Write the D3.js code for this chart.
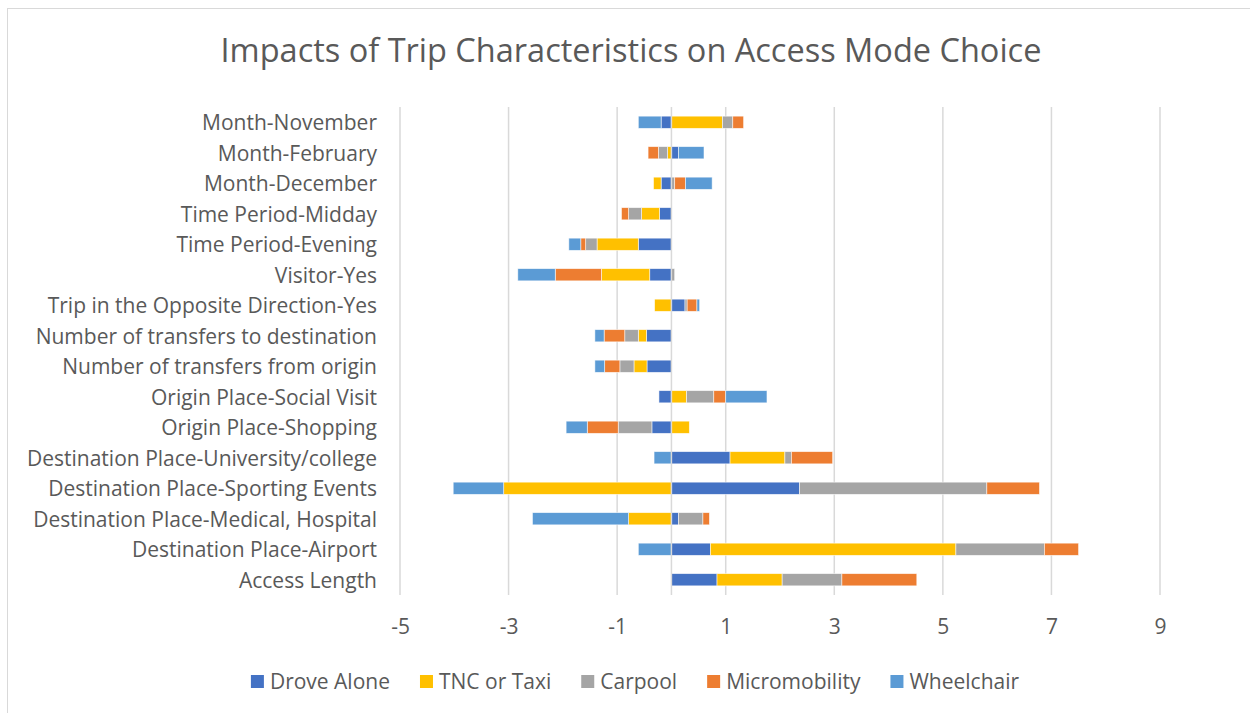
<!DOCTYPE html>
<html>
<head>
<meta charset="utf-8">
<script src="https://cdn.jsdelivr.net/npm/d3@7"></script>
<style>
  body { margin: 0; background: #fff; }
  text { font-family: "Open Sans", sans-serif; fill: #595959; }
</style>
</head>
<body>
<div id="chart-area"></div>
<script>
// categories, top to bottom as in the chart
var categories = [
  "Month-November",
  "Month-February",
  "Month-December",
  "Time Period-Midday",
  "Time Period-Evening",
  "Visitor-Yes",
  "Trip in the Opposite Direction-Yes",
  "Number of transfers to destination",
  "Number of transfers from origin",
  "Origin Place-Social Visit",
  "Origin Place-Shopping",
  "Destination Place-University/college",
  "Destination Place-Sporting Events",
  "Destination Place-Medical, Hospital",
  "Destination Place-Airport",
  "Access Length"
];

var seriesNames = ["Drove Alone", "TNC or Taxi", "Carpool", "Micromobility", "Wheelchair"];

var droveAlone    = [-0.19, 0.13, -0.19, -0.22, -0.61, -0.40, 0.25, -0.46, -0.45, -0.23, -0.36, 1.08, 2.36, 0.13, 0.72, 0.84];
var tncTaxi       = [0.94, -0.07, -0.14, -0.33, -0.76, -0.89, -0.31, -0.15, -0.24, 0.28, 0.33, 1.01, -3.09, -0.79, 4.52, 1.20];
var carpool       = [0.19, -0.17, 0.06, -0.24, -0.21, 0.06, 0.04, -0.25, -0.26, 0.50, -0.62, 0.12, 3.45, 0.45, 1.63, 1.10];
var micromobility = [0.20, -0.19, 0.20, -0.13, -0.09, -0.85, 0.18, -0.38, -0.28, 0.22, -0.57, 0.76, 0.97, 0.12, 0.63, 1.38];
var wheelchair    = [-0.42, 0.47, 0.49, 0, -0.22, -0.69, 0.05, -0.17, -0.18, 0.76, -0.39, -0.32, -0.93, -1.77, -0.61, 0];

var xTicks = [-5, -3, -1, 1, 3, 5, 7, 9];

var colors = ["#4472C4", "#FFC000", "#A5A5A5", "#ED7D31", "#5B9BD5"];

var width = 1250, height = 713;

var svg = d3.select("#chart-area").append("svg")
	.attr("width", width)
	.attr("height", height);

// chart border
svg.append("rect")
	.attr("x", 7.5)
	.attr("y", 8.5)
	.attr("width", 1260)
	.attr("height", 720)
	.attr("fill", "none")
	.attr("stroke", "#d9d9d9")
	.attr("stroke-width", 1);

svg.append("text")
	.attr("x", 631)
	.attr("y", 62)
	.attr("text-anchor", "middle")
	.style("font-size", "32.5px")
	.text("Impacts of Trip Characteristics on Access Mode Choice");

var x = d3.scaleLinear().domain([-5, 9]).range([400, 1160]);
var y = d3.scaleBand().domain(categories).range([107, 595]).paddingInner(0.6).paddingOuter(0.3);

// gridlines
svg.append("g").selectAll("line")
	.data(xTicks)
	.join("line")
	.attr("x1", d => x(d))
	.attr("x2", d => x(d))
	.attr("y1", 107)
	.attr("y2", 595)
	.attr("stroke", "#d9d9d9")
	.attr("stroke-width", 1.5);

// rows for the stack
var table = categories.map(function(c, i) {
  return {
    cat: c,
    "Drove Alone": droveAlone[i],
    "TNC or Taxi": tncTaxi[i],
    "Carpool": carpool[i],
    "Micromobility": micromobility[i],
    "Wheelchair": wheelchair[i]
  };
});

var stacked = d3.stack()
	.keys(seriesNames)
	.offset(d3.stackOffsetDiverging)(table);

svg.append("g").selectAll("g")
	.data(stacked)
	.join("g")
	.attr("fill", (d, i) => colors[i])
	.selectAll("rect")
	.data(d => d.filter(s => s[1] !== s[0]))
	.join("rect")
	.attr("x", d => x(Math.min(d[0], d[1])))
	.attr("width", d => Math.abs(x(d[1]) - x(d[0])))
	.attr("y", d => y(d.data.cat))
	.attr("height", y.bandwidth())
	.attr("stroke", "#fff")
	.attr("stroke-width", 0.75)
	.attr("stroke-opacity", 0.7);

// vertical axis line at 0
svg.append("line")
	.attr("x1", x(0))
	.attr("x2", x(0))
	.attr("y1", 107)
	.attr("y2", 595)
	.attr("stroke", "#d9d9d9")
	.attr("stroke-width", 1.5);

// category labels
var yAxis = svg.append("g")
	.attr("transform", "translate(400,0)")
	.call(d3.axisLeft(y).tickSize(0).tickPadding(23));
yAxis.select(".domain").remove();
yAxis.selectAll("text")
	.attr("dy", "0.38em")
	.style("font-size", "21px")
	.style("font-family", "'Open Sans', sans-serif")
	.attr("fill", "#595959");

// value axis labels
var xAxis = svg.append("g")
	.attr("transform", "translate(0,595)")
	.call(d3.axisBottom(x).tickValues(xTicks).tickSize(0).tickPadding(24).tickFormat(d => String(d)));
xAxis.select(".domain").remove();
xAxis.selectAll("text")
	.style("font-size", "21px")
	.style("font-family", "'Open Sans', sans-serif")
	.attr("fill", "#595959");

// legend
var legend = svg.append("g");
var items = legend.selectAll("g")
	.data(seriesNames)
	.join("g");
items.append("rect")
	.attr("width", 13)
	.attr("height", 13)
	.attr("y", 675)
	.attr("fill", (d, i) => colors[i]);
items.append("text")
	.attr("x", 19)
	.attr("y", 689)
	.style("font-size", "21px")
	.text(d => d);

var pos = 0;
var offsets = [];
items.each(function() {
  offsets.push(pos);
  var w = d3.select(this).select("text").node().getComputedTextLength();
  pos += 19 + w + 30;
});
var total = pos - 30;
var start = 635 - total / 2;
items.attr("transform", (d, i) => "translate(" + (start + offsets[i]) + ",0)");
</script>
</body>
</html>
